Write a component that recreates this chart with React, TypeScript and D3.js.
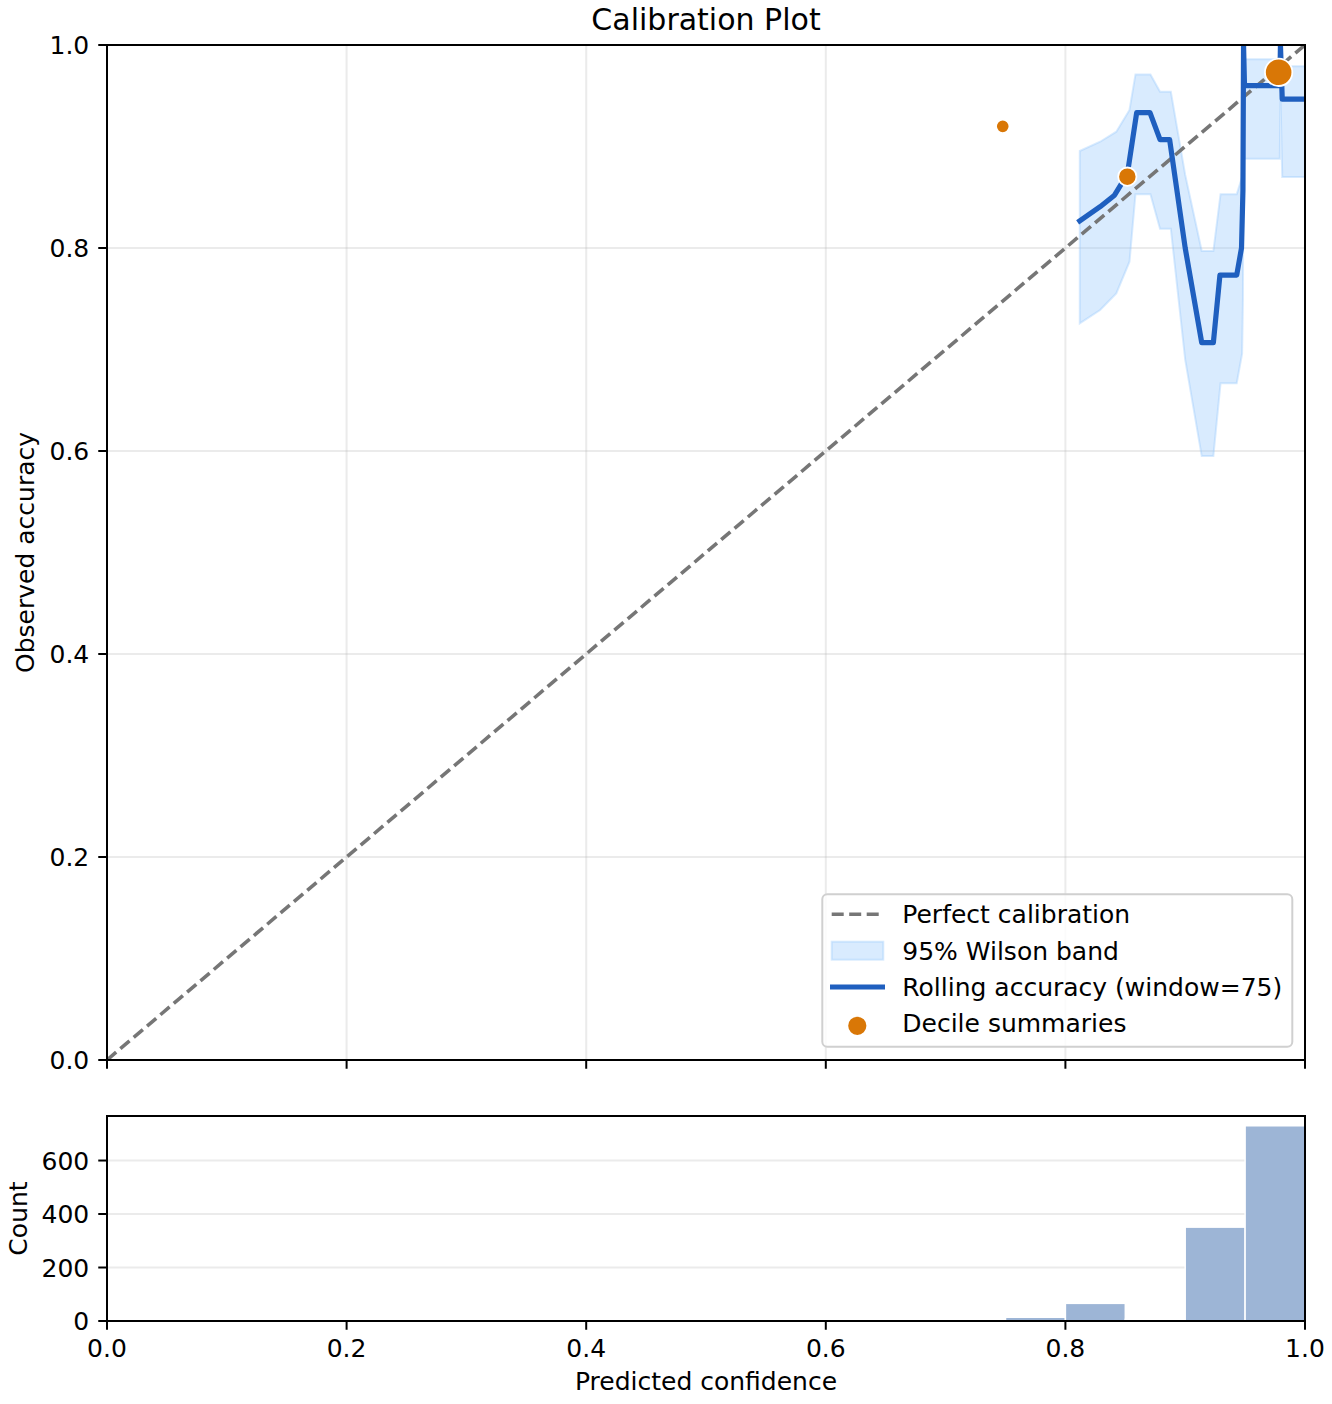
import React, { useEffect, useRef } from 'react'
import * as d3 from 'd3'

// rolling accuracy (window = 75)
const rollX = [0.812, 0.829, 0.841, 0.847, 0.852, 0.8595, 0.8706, 0.879, 0.887, 0.9, 0.9138, 0.9235, 0.929, 0.943, 0.947, 0.9482, 0.9487, 0.9495, 0.979, 0.9795, 0.981, 1.0]
const rollAcc = [0.8267, 0.8407, 0.852, 0.8637, 0.875, 0.9333, 0.9333, 0.9067, 0.9067, 0.8, 0.7067, 0.7067, 0.7733, 0.7733, 0.8, 0.857, 1.0, 0.96, 0.96, 1.0, 0.9467, 0.9467]

// 95% Wilson band
const bandX = [0.812, 0.829, 0.8425, 0.8535, 0.8585, 0.871, 0.879, 0.888, 0.9, 0.9138, 0.9235, 0.9295, 0.943, 0.9475, 0.9482, 0.9487, 0.9495, 0.979, 0.9795, 0.981, 1.0]
const bandLo = [0.7258, 0.7389, 0.7553, 0.7865, 0.853, 0.853, 0.819, 0.819, 0.69, 0.595, 0.595, 0.6667, 0.6667, 0.696, 0.75, 0.951, 0.888, 0.888, 0.951, 0.87, 0.87]
const bandHi = [0.8956, 0.9047, 0.9146, 0.936, 0.971, 0.971, 0.954, 0.954, 0.872, 0.797, 0.797, 0.853, 0.853, 0.87, 0.905, 1.0, 0.986, 0.986, 1.0, 0.979, 0.979]

// decile summaries
const decileConf = [0.7477, 0.8517, 0.978]
const decileAcc = [0.9199, 0.8703, 0.9731]
const decileCount = [200, 370, 830]

// histogram of predicted confidence
const histEdges = [0.75, 0.8, 0.85, 0.9, 0.95, 1.0]
const histCounts = [14, 66, 6, 351, 730]

const xTicks = [0, 0.2, 0.4, 0.6, 0.8, 1.0]
const yTicks = [0, 0.2, 0.4, 0.6, 0.8, 1.0]
const countTicks = [0, 200, 400, 600]

const legendLabels = ['Perfect calibration', '95% Wilson band', 'Rolling accuracy (window=75)', 'Decile summaries']

const W = 1332
const H = 1404
const left = 107
const right = 1305
const mainTop = 45
const mainBottom = 1060
const histTop = 1116
const histBottom = 1321
const font = 'DejaVu Sans, sans-serif'
const tickLen = 8.75

export default function App() {
  const svgRef = useRef<SVGSVGElement>(null)

  useEffect(() => {
    if (!svgRef.current) return
    const svg = d3.select(svgRef.current)
    svg.selectAll('*').remove()

    const x = d3.scaleLinear().domain([0, 1]).range([left, right])
    const y = d3.scaleLinear().domain([0, 1]).range([mainBottom, mainTop])
    const yh = d3.scaleLinear().domain([0, (d3.max(histCounts) as number) * 1.05]).range([histBottom, histTop])
    const r = d3.scaleSqrt().domain([0, d3.max(decileCount) as number]).range([0, 13.7])

    svg.append('defs').append('clipPath').attr('id', 'mainClip')
      .append('rect').attr('x', left).attr('y', mainTop).attr('width', right - left).attr('height', mainBottom - mainTop)

    // title
    svg.append('text').attr('x', (left + right) / 2).attr('y', 29.5)
      .attr('text-anchor', 'middle').style('font-family', font).style('font-size', '30px').text('Calibration Plot')

    // ---- main axes ----
    const main = svg.append('g')
    const grid = main.append('g').attr('stroke', '#b0b0b0').attr('stroke-opacity', 0.25).attr('stroke-width', 2)
    xTicks.slice(1, -1).forEach(t => {
      grid.append('line').attr('x1', x(t)).attr('x2', x(t)).attr('y1', mainTop).attr('y2', mainBottom)
    })
    yTicks.slice(1, -1).forEach(t => {
      grid.append('line').attr('x1', left).attr('x2', right).attr('y1', y(t)).attr('y2', y(t))
    })

    const plot = main.append('g').attr('clip-path', 'url(#mainClip)')

    const idxBand = d3.range(bandX.length)
    const area = d3.area<number>()
      .x(i => x(bandX[i]))
      .y0(i => y(bandLo[i]))
      .y1(i => y(bandHi[i]))
    plot.append('path').attr('d', area(idxBand))
      .attr('fill', '#93c5fd').attr('fill-opacity', 0.35)
      .attr('stroke', '#93c5fd').attr('stroke-opacity', 0.35).attr('stroke-width', 2)

    plot.append('line')
      .attr('x1', x(0)).attr('y1', y(0)).attr('x2', x(1)).attr('y2', y(1))
      .attr('stroke', '#767676').attr('stroke-width', 3.6).attr('stroke-dasharray', '12,5.5')

    const idxRoll = d3.range(rollX.length)
    const line = d3.line<number>().x(i => x(rollX[i])).y(i => y(rollAcc[i]))
    plot.append('path').attr('d', line(idxRoll))
      .attr('fill', 'none').attr('stroke', '#1f5fbf').attr('stroke-width', 5.2)
      .attr('stroke-linejoin', 'round').attr('stroke-linecap', 'square')

    main.selectAll('circle.decile')
      .data(d3.range(decileConf.length))
      .join('circle')
      .attr('class', 'decile')
      .attr('cx', i => x(decileConf[i]))
      .attr('cy', i => y(decileAcc[i]))
      .attr('r', i => r(decileCount[i]))
      .attr('fill', '#d97706')
      .attr('stroke', 'white')
      .attr('stroke-width', 1.8)

    main.append('rect').attr('x', left).attr('y', mainTop).attr('width', right - left).attr('height', mainBottom - mainTop)
      .attr('fill', 'none').attr('stroke', 'black').attr('stroke-width', 2)

    yTicks.forEach(t => {
      main.append('line').attr('x1', left - tickLen).attr('x2', left).attr('y1', y(t)).attr('y2', y(t))
        .attr('stroke', 'black').attr('stroke-width', 2)
      main.append('text').attr('x', left - tickLen - 9).attr('y', y(t) + 9)
        .attr('text-anchor', 'end').style('font-family', font).style('font-size', '25px')
        .text(d3.format('.1f')(t))
    })
    xTicks.forEach(t => {
      main.append('line').attr('x1', x(t)).attr('x2', x(t)).attr('y1', mainBottom).attr('y2', mainBottom + tickLen)
        .attr('stroke', 'black').attr('stroke-width', 2)
    })
    main.append('text')
      .attr('transform', `translate(34, ${(mainTop + mainBottom) / 2}) rotate(-90)`)
      .attr('text-anchor', 'middle').style('font-family', font).style('font-size', '25px')
      .text('Observed accuracy')

    // legend
    const lg = main.append('g')
    lg.append('rect').attr('x', 822.3).attr('y', 894.3).attr('width', 470).attr('height', 152.4).attr('rx', 5)
      .attr('fill', 'white').attr('fill-opacity', 0.8).attr('stroke', '#d0d0d0').attr('stroke-width', 2)
    const rowY = [914.3, 950.7, 987, 1023.3]
    lg.append('line').attr('x1', 831.7).attr('x2', 883.3).attr('y1', rowY[0]).attr('y2', rowY[0])
      .attr('stroke', '#767676').attr('stroke-width', 3.6).attr('stroke-dasharray', '12,5.5')
    lg.append('rect').attr('x', 831.7).attr('y', rowY[1] - 9).attr('width', 51.6).attr('height', 18)
      .attr('fill', '#93c5fd').attr('fill-opacity', 0.35)
      .attr('stroke', '#93c5fd').attr('stroke-opacity', 0.35).attr('stroke-width', 2)
    lg.append('line').attr('x1', 830).attr('x2', 885).attr('y1', rowY[2]).attr('y2', rowY[2])
      .attr('stroke', '#1f5fbf').attr('stroke-width', 5.2)
    lg.append('circle').attr('cx', 857.3).attr('cy', rowY[3] + 2.5).attr('r', 10)
      .attr('fill', '#d97706').attr('stroke', 'white').attr('stroke-width', 1.8)
    legendLabels.forEach((s, i) => {
      lg.append('text').attr('x', 902.3).attr('y', rowY[i] + 9)
        .style('font-family', font).style('font-size', '25px').text(s)
    })

    // ---- histogram axes ----
    const hist = svg.append('g')
    const hgrid = hist.append('g').attr('stroke', '#b0b0b0').attr('stroke-opacity', 0.25).attr('stroke-width', 2)
    countTicks.slice(1).forEach(t => {
      hgrid.append('line').attr('x1', left).attr('x2', right).attr('y1', yh(t)).attr('y2', yh(t))
    })
    hist.selectAll('rect.bar')
      .data(d3.range(histCounts.length))
      .join('rect')
      .attr('class', 'bar')
      .attr('x', i => x(histEdges[i]))
      .attr('width', i => x(histEdges[i + 1]) - x(histEdges[i]))
      .attr('y', i => yh(histCounts[i]))
      .attr('height', i => histBottom - yh(histCounts[i]))
      .attr('fill', '#9db5d6')
      .attr('stroke', 'white')
      .attr('stroke-width', 1.5)

    hist.append('rect').attr('x', left).attr('y', histTop).attr('width', right - left).attr('height', histBottom - histTop)
      .attr('fill', 'none').attr('stroke', 'black').attr('stroke-width', 2)

    countTicks.forEach(t => {
      hist.append('line').attr('x1', left - tickLen).attr('x2', left).attr('y1', yh(t)).attr('y2', yh(t))
        .attr('stroke', 'black').attr('stroke-width', 2)
      hist.append('text').attr('x', left - tickLen - 9).attr('y', yh(t) + 9)
        .attr('text-anchor', 'end').style('font-family', font).style('font-size', '25px')
        .text(String(t))
    })
    xTicks.forEach(t => {
      hist.append('line').attr('x1', x(t)).attr('x2', x(t)).attr('y1', histBottom).attr('y2', histBottom + tickLen)
        .attr('stroke', 'black').attr('stroke-width', 2)
      hist.append('text').attr('x', x(t)).attr('y', 1357)
        .attr('text-anchor', 'middle').style('font-family', font).style('font-size', '25px')
        .text(d3.format('.1f')(t))
    })
    hist.append('text').attr('x', (left + right) / 2).attr('y', 1390)
      .attr('text-anchor', 'middle').style('font-family', font).style('font-size', '25px')
      .text('Predicted confidence')
    hist.append('text')
      .attr('transform', `translate(27, ${(histTop + histBottom) / 2}) rotate(-90)`)
      .attr('text-anchor', 'middle').style('font-family', font).style('font-size', '25px')
      .text('Count')
  }, [])

  return (
    <svg
      ref={svgRef}
      width={W}
      height={H}
      style={{ position: 'absolute', left: 0, top: 0, background: '#fff', display: 'block' }}
    />
  )
}
